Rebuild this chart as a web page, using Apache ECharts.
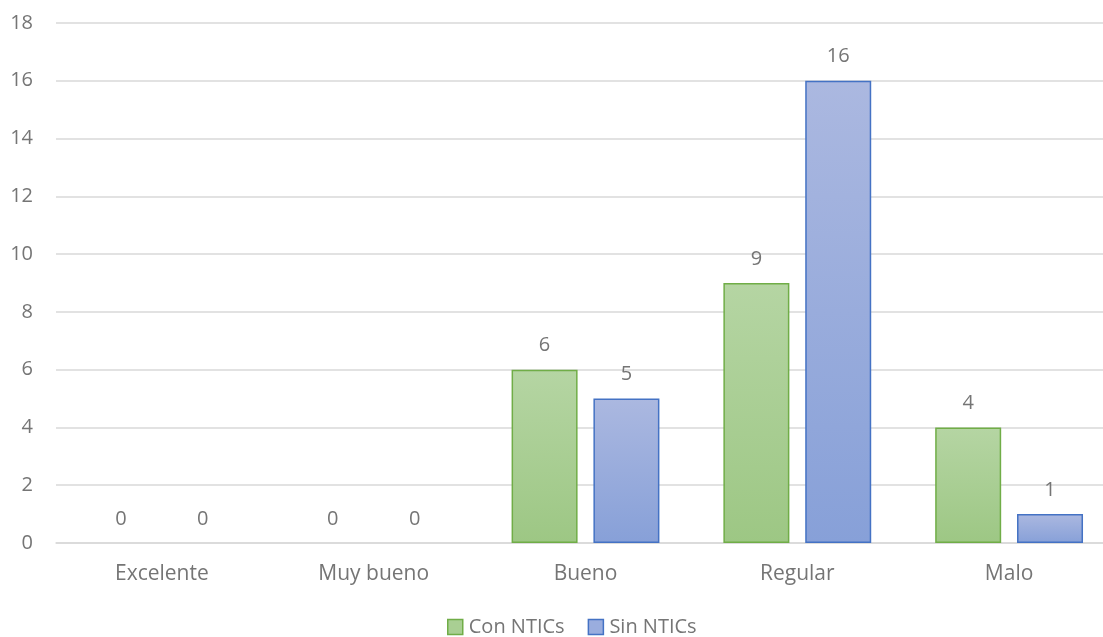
<!DOCTYPE html>
<html>
<head>
<meta charset="utf-8">
<script src="https://cdn.jsdelivr.net/npm/echarts@6/dist/echarts.min.js"></script>
<style>
  html, body { margin: 0; padding: 0; background: #ffffff; overflow: hidden; }
  #chart { width: 1115px; height: 637px; }
</style>
</head>
<body>
<div id="chart"></div>
<script>
// Valoración por categoría, con y sin NTICs
const categories = ['Excelente', 'Muy bueno', 'Bueno', 'Regular', 'Malo'];
const conNTICs = [0, 0, 6, 9, 4];
const sinNTICs = [0, 0, 5, 16, 1];
const yTicks = { min: 0, max: 18, interval: 2 };

const FONT = '"Open Sans", "Noto Sans", sans-serif';
const TEXT = '#757575';

function grad(top, bottom) {
  return new echarts.graphic.LinearGradient(0, 0, 0, 1, [
    { offset: 0, color: top },
    { offset: 1, color: bottom }
  ]);
}

// Zero-height bars get no outline so nothing is drawn on the baseline
function barData(values) {
  return values.map(v => ({ value: v, itemStyle: v === 0 ? { borderWidth: 0, opacity: 0 } : {} }));
}

const labelStyle = { show: true, position: 'top', distance: 14, color: TEXT, fontSize: 20, fontFamily: FONT, opacity: 1 };

const chart = echarts.init(document.getElementById('chart'), null, { renderer: 'canvas' });
chart.setOption({
  animation: false,
  backgroundColor: '#ffffff',
  textStyle: { fontFamily: FONT },
  grid: { left: 56, right: 0, top: 23, bottom: 94, containLabel: false },
  legend: {
    top: 617,
    left: 447,
    padding: 0,
    itemWidth: 15,
    itemHeight: 15,
    itemGap: 23,
    icon: 'rect',
    textStyle: { color: TEXT, fontSize: 20, fontFamily: FONT, padding: [0, 0, 0, 1] },
    data: [
      { name: 'Con NTICs', itemStyle: { color: '#a9cf93', borderColor: '#70ad47', borderWidth: 1.5 } },
      { name: 'Sin NTICs', itemStyle: { color: '#9aadde', borderColor: '#4472c4', borderWidth: 1.5 } }
    ]
  },
  xAxis: {
    type: 'category',
    data: categories,
    axisLine: { show: true, lineStyle: { color: '#d9d9d9', width: 1.5 } },
    axisTick: { show: false },
    axisLabel: { color: TEXT, fontSize: 21, fontFamily: FONT, margin: 21 }
  },
  yAxis: {
    type: 'value',
    min: yTicks.min,
    max: yTicks.max,
    interval: yTicks.interval,
    axisLine: { show: false },
    axisTick: { show: false },
    axisLabel: { color: TEXT, fontSize: 20, fontFamily: FONT, margin: 23 },
    splitLine: { lineStyle: { color: '#d9d9d9', width: 1.5 } }
  },
  series: [
    {
      name: 'Con NTICs',
      type: 'bar',
      data: barData(conNTICs),
      barWidth: 66,
      barGap: '24%',
      itemStyle: { color: grad('#b5d5a3', '#9dc784'), borderColor: '#70ad47', borderWidth: 1.5 },
      label: labelStyle
    },
    {
      name: 'Sin NTICs',
      type: 'bar',
      data: barData(sinNTICs),
      barWidth: 66,
      itemStyle: { color: grad('#abb8e0', '#87a0d8'), borderColor: '#4472c4', borderWidth: 1.5 },
      label: labelStyle
    }
  ]
});
</script>
</body>
</html>
